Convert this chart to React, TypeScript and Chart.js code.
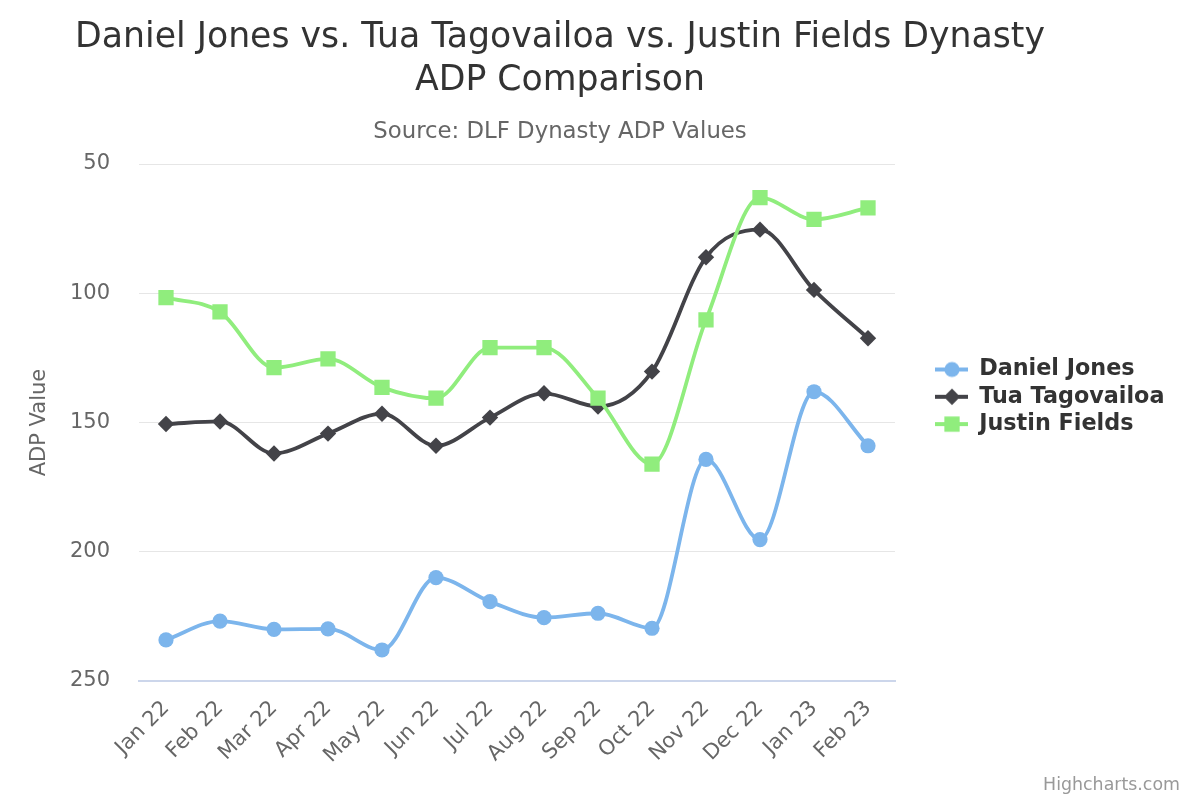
import React, { useEffect, useRef } from 'react';
import { Chart, registerables } from 'chart.js';

Chart.register(...registerables);

// ---------- data ----------
const categories = ['Jan 22', 'Feb 22', 'Mar 22', 'Apr 22', 'May 22', 'Jun 22', 'Jul 22', 'Aug 22', 'Sep 22', 'Oct 22', 'Nov 22', 'Dec 22', 'Jan 23', 'Feb 23'];
const danielJones = [234.1, 226.8, 230.0, 229.8, 238.0, 210.0, 219.3, 225.5, 223.8, 229.6, 164.3, 195.3, 138.1, 159.0];
const tuaTagovailoa = [150.6, 149.6, 162.0, 154.3, 146.6, 159.0, 148.1, 138.7, 143.8, 130.3, 86.1, 75.4, 98.7, 117.4];
const justinFields = [101.7, 107.2, 128.8, 125.4, 136.4, 140.6, 121.0, 121.0, 140.6, 166.1, 110.3, 63.0, 71.4, 67.0];
const seriesNames = ['Daniel Jones', 'Tua Tagovailoa', 'Justin Fields'];
const yMin = 50;
const yMax = 250;
const yStep = 50;
const titleLines = ['Daniel Jones vs. Tua Tagovailoa vs. Justin Fields Dynasty', 'ADP Comparison'];
const subtitleText = 'Source: DLF Dynasty ADP Values';
const yAxisTitle = 'ADP Value';
const creditsText = 'Highcharts.com';

// ---------- styles ----------
const FONT = '"DejaVu Sans", sans-serif';
const COLORS = ['#7cb5ec', '#434348', '#90ed7d'];
const STYLES = ['circle', 'rectRot', 'rect'];
const RADII = [7.6, 8.2, 10.8];
const LINE_W = 3.8;
const LEGEND_FONT_SIZE = 22.3;
const LEGEND_PAD = 5;
const SYMBOL_W = 68;
const PLOT = { left: 139, right: 895, top: 164, bottom: 681 };

function makeSymbol(color: string, style: string, r: number) {
  const c = document.createElement('canvas');
  c.width = SYMBOL_W;
  c.height = 24;
  const g = c.getContext('2d')!;
  const cy = 12;
  const cx = 52;
  g.strokeStyle = color;
  g.lineWidth = LINE_W;
  g.beginPath();
  g.moveTo(35, cy);
  g.lineTo(SYMBOL_W, cy);
  g.stroke();
  g.fillStyle = color;
  g.beginPath();
  if (style === 'circle') {
    g.arc(cx, cy, r, 0, Math.PI * 2);
  } else if (style === 'rectRot') {
    g.moveTo(cx - r, cy);
    g.lineTo(cx, cy - r);
    g.lineTo(cx + r, cy);
    g.lineTo(cx, cy + r);
    g.closePath();
  } else {
    const h = r * Math.SQRT1_2;
    g.rect(cx - h, cy - h, 2 * h, 2 * h);
  }
  g.fill();
  return c;
}

const textPlugin = {
  id: 'hcText',
  afterDraw(chart: any) {
    const ctx = chart.ctx;
    ctx.save();
    ctx.textAlign = 'center';
    ctx.textBaseline = 'alphabetic';
    ctx.fillStyle = '#333333';
    ctx.font = `34.7px ${FONT}`;
    ctx.fillText(titleLines[0], 560, 47);
    ctx.fillText(titleLines[1], 560, 90);
    ctx.fillStyle = '#666666';
    ctx.font = `22.8px ${FONT}`;
    ctx.fillText(subtitleText, 560, 138);
    ctx.textAlign = 'right';
    ctx.fillStyle = '#999999';
    ctx.font = `17.4px ${FONT}`;
    ctx.fillText(creditsText, 1180, 790);
    ctx.restore();
  },
};

export default function App() {
  const ref = useRef<HTMLCanvasElement | null>(null);

  useEffect(() => {
    if (!ref.current) return;
    const mc = document.createElement('canvas').getContext('2d')!;
    mc.font = `bold ${LEGEND_FONT_SIZE}px ${FONT}`;
    const tw = Math.max(...seriesNames.map((n) => mc.measureText(n).width));
    const legendWidth = LEGEND_PAD + SYMBOL_W + LEGEND_FONT_SIZE / 2 + tw + 10;
    const padRight = Math.max(0, 1200 - PLOT.right - legendWidth);

    const symbols = COLORS.map((c, i) => makeSymbol(c, STYLES[i], RADII[i]));
    const seriesData = [danielJones, tuaTagovailoa, justinFields];

    const itemTop = 369.5 - LEGEND_FONT_SIZE / 2;
    const titleHeight = itemTop - PLOT.top - LEGEND_PAD;

    const chart = new Chart(ref.current, {
      type: 'line',
      data: {
        labels: categories,
        datasets: seriesData.map((d, i) => ({
          label: seriesNames[i],
          data: d,
          borderColor: COLORS[i],
          backgroundColor: COLORS[i],
          pointBackgroundColor: COLORS[i],
          pointBorderWidth: 0,
          pointStyle: STYLES[i] as any,
          pointRadius: RADII[i],
          pointHoverRadius: RADII[i],
          borderWidth: LINE_W,
          cubicInterpolationMode: 'monotone',
          fill: false,
          order: 3 - i,
        })),
      },
      options: {
        animation: false,
        responsive: false,
        devicePixelRatio: 1,
        events: [],
        layout: { padding: { top: PLOT.top, left: 0, right: padRight, bottom: 0 } },
        scales: {
          x: {
            offset: true,
            grid: { display: false, drawTicks: false },
            border: { display: true, color: '#ccd6eb', width: 1.9 },
            ticks: {
              color: '#666666',
              font: { family: FONT, size: 21 },
              maxRotation: 45,
              minRotation: 45,
              autoSkip: false,
              padding: 15,
            },
            afterFit: (s: any) => {
              s.height = 800 - PLOT.bottom;
            },
          },
          y: {
            reverse: true,
            min: yMin,
            max: yMax,
            ticks: {
              stepSize: yStep,
              color: '#666666',
              font: { family: FONT, size: 21 },
              padding: 29,
            },
            grid: {
              color: (c: any) => (c.tick && c.tick.value === yMax ? 'rgba(0,0,0,0)' : '#e6e6e6'),
              lineWidth: 1,
              drawTicks: false,
            },
            border: { display: false },
            title: {
              display: true,
              text: yAxisTitle,
              color: '#666666',
              font: { family: FONT, size: 21 },
              padding: { top: 27.4, bottom: 0 },
            },
            afterFit: (s: any) => {
              s.width = PLOT.left;
            },
          },
        },
        plugins: {
          title: { display: false },
          tooltip: { enabled: false },
          legend: {
            position: 'right',
            align: 'start',
            title: { display: true, text: '', font: { size: 10 }, padding: { top: 0, bottom: titleHeight - 12 } },
            labels: {
              usePointStyle: true,
              pointStyleWidth: SYMBOL_W,
              padding: LEGEND_PAD,
              color: '#333333',
              font: { family: FONT, size: LEGEND_FONT_SIZE, weight: 'bold' },
              generateLabels: (ch: any) => {
                const items = (Chart.defaults.plugins.legend.labels as any).generateLabels(ch);
                items.sort((a: any, b: any) => a.datasetIndex - b.datasetIndex);
                items.forEach((it: any) => {
                  it.pointStyle = symbols[it.datasetIndex];
                  it.fontColor = '#333333';
                });
                return items;
              },
            },
          },
        },
      },
      plugins: [textPlugin],
    } as any);

    return () => chart.destroy();
  }, []);

  return (
    <div style={{ position: 'absolute', left: 0, top: 0, width: 1200, height: 800, background: '#ffffff' }}>
      <canvas ref={ref} width={1200} height={800} style={{ display: 'block', width: 1200, height: 800 }} />
    </div>
  );
}
